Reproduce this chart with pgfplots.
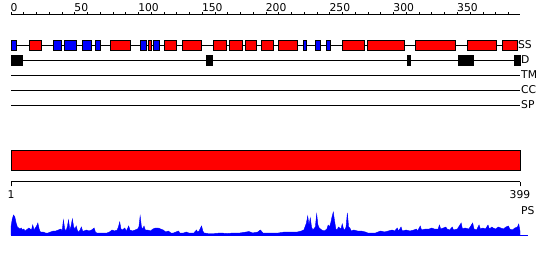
\documentclass[border=0pt]{standalone}
\usepackage{pgfplots}
\pgfplotsset{compat=1.18}
\usepackage{fontspec}
\setmainfont{DejaVu Sans}
\newcommand{\lab}{\fontsize{10.8}{12}\selectfont}
% secondary-structure / disorder boxes: start, end (residues), y top, y bottom (px from top)
\newcommand{\tbox}[5]{\addplot[fill=#5, draw=black, line width=1bp] coordinates {(#1,#3) (#2,#3) (#2,#4) (#1,#4)} -- cycle;}
\begin{document}
\begin{tikzpicture}
\useasboundingbox (0,0) rectangle (550bp,260bp);
% ---------- tracks ----------
\begin{axis}[scale only axis, width=509bp, height=260bp, at={(11bp,0bp)}, anchor=south west,
  xmin=0, xmax=399, ymin=0, ymax=260, y dir=reverse, hide axis, clip=false]
\addplot[black, line width=1bp] coordinates {(0,45) (397,45)};
\addplot[black, line width=1bp] coordinates {(0,60) (399,60)};
\addplot[black, line width=1bp] coordinates {(0,75) (399,75)};
\addplot[black, line width=1bp] coordinates {(0,90) (399,90)};
\addplot[black, line width=1bp] coordinates {(0,105) (399,105)};
% SS
\tbox{0}{4.5}{40}{50}{blue}
\tbox{14.3}{24.1}{40}{50}{red}
\tbox{33.2}{39.7}{40}{50}{blue}
\tbox{41.8}{51.5}{40}{50}{blue}
\tbox{55.9}{63.3}{40}{50}{blue}
\tbox{66.1}{70.3}{40}{50}{blue}
\tbox{77.8}{93.5}{40}{50}{red}
\tbox{101.4}{106.4}{40}{50}{blue}
\tbox{107.6}{110.5}{40}{50}{red}
\tbox{111.5}{116.6}{40}{50}{blue}
\tbox{120.2}{129.9}{40}{50}{red}
\tbox{134.3}{149.5}{40}{50}{red}
\tbox{158.6}{169.1}{40}{50}{red}
\tbox{171.1}{181.6}{40}{50}{red}
\tbox{184.2}{192.6}{40}{50}{red}
\tbox{196}{205.6}{40}{50}{red}
\tbox{209.5}{224.7}{40}{50}{red}
\tbox{229.1}{231.8}{40}{50}{blue}
\tbox{238.5}{242.8}{40}{50}{blue}
\tbox{247.5}{250.6}{40}{50}{blue}
\tbox{259.7}{276.9}{40}{50}{red}
\tbox{279.3}{308.3}{40}{50}{red}
\tbox{316.9}{348.8}{40}{50}{red}
\tbox{357.7}{380.7}{40}{50}{red}
\tbox{385.1}{396.9}{40}{50}{red}
% D
\tbox{0}{9.2}{55}{65.5}{black}
\tbox{152.9}{157.6}{55}{65.5}{black}
\tbox{311.2}{313.3}{55}{65.5}{black}
\tbox{350.6}{362.2}{55}{65.5}{black}
\tbox{394.3}{399.3}{55}{65.5}{black}
% long red bar
\tbox{0}{399}{150}{170}{red}
\node[anchor=west, inner sep=0.5bp, font=\lab] at (axis cs:396.9,45) {SS};
\node[anchor=west, inner sep=0.5bp, font=\lab] at (axis cs:399.3,60) {D};
\node[anchor=west, inner sep=1bp, font=\lab] at (axis cs:399,75) {TM};
\node[anchor=west, inner sep=1bp, font=\lab] at (axis cs:399,90) {CC};
\node[anchor=west, inner sep=1bp, font=\lab] at (axis cs:399,105) {SP};
\node[anchor=west, inner sep=1bp, font=\lab] at (axis cs:399,211) {PS};
\end{axis}
% ---------- top ruler ----------
\begin{axis}[scale only axis, width=509bp, height=1bp, at={(11bp,244bp)}, anchor=south west,
  xmin=0, xmax=399, ymin=0, ymax=1, axis x line=top, axis y line=none,
  axis line style={-, line width=1bp},
  xtick={0,50,...,350}, minor xtick={10,20,...,390},
  tick align=outside, major tick length=2.8bp, minor tick length=2.8bp,
  every tick/.style={black, line width=1bp},
  xticklabel style={anchor=south west, inner sep=0pt, font=\lab, xshift=-0.5bp},
  /pgf/number format/assume math mode=true]
\addplot[draw=none] coordinates {(0,0) (399,1)};
\end{axis}
% ---------- bottom axis ----------
\begin{axis}[scale only axis, width=509bp, height=1bp, at={(11bp,79bp)}, anchor=north west,
  xmin=1, xmax=399, ymin=0, ymax=1, axis x line=bottom, axis y line=none,
  axis line style={-, line width=1bp},
  xtick={1,399}, tick align=outside, major tick length=4.3bp,
  every tick/.style={black, line width=1bp},
  xticklabel style={font=\lab, inner sep=1pt, yshift=-3bp},
  /pgf/number format/assume math mode=true]
\addplot[draw=none] coordinates {(1,0) (399,1)};
\end{axis}
% ---------- PS profile ----------
\begin{axis}[scale only axis, width=509bp, height=25bp, at={(11bp,25bp)}, anchor=south west,
  xmin=1, xmax=399, ymin=0, ymax=25, hide axis, clip=false]
\addplot[blue, line width=1bp] coordinates {(1,0) (405,0)};
\addplot[fill=blue, draw=blue, line width=0.4bp] table {
x y
1 8
2 16
3 20
4 18
5 12
6 8
7 7
8 6
9 7
10 5
11 6
12 4
13 5
14 6
15 7
16 6
17 5
18 10
19 5
20 7
21 9
22 12
23 6
24 3
26 3
28 2
30 2
32 3
34 4
36 4
38 5
40 6
41 4
42 15
43 6
44 4
45 8
46 15
47 5
48 9
49 16
50 8
51 6
52 9
53 4
54 3
55 5
56 8
57 4
58 4
60 5
62 4
64 5
66 7
67 3
68 2
70 2
72 2
74 2
76 2
78 3
80 5
82 4
84 5
85 8
86 13
87 6
88 5
90 7
91 4
92 6
93 9
94 5
96 4
98 5
100 6
101 8
102 19
103 8
104 6
105 9
106 5
108 5
110 4
112 6
114 7
116 7
118 6
120 5
122 3
124 4
126 2
128 2
130 3
132 4
133 2
136 2
138 3
140 2
142 2
144 2
146 5
147 3
148 4
150 9
151 4
152 2
155 1.5
160 1.5
165 2
170 1.5
175 2
180 2
185 3
187 3.5
190 2
194 3
196 5
198 2
202 2
206 2
210 2
215 3
220 3
225 3
228 4
230 5
232 12
233 19
234 10
235 17
236 8
237 5
239 8
240 21
241 10
242 7
244 5
246 4
248 6
249 10
250 8
251 12
252 18
253 23
254 14
255 6
256 5
257 8
258 7
259 6
260 11
261 6
262 5
263 8
264 22
265 8
266 7
267 4
269 5
272 4
275 4
278 3
280 2
283 2
286 2
290 4
293 3
296 4
299 5
301 4
303 7
304 4
306 8
307 4
310 5
313 4
316 5
318 6
319 4
321 9
322 5
325 6
328 6
330 7
332 6
335 6
336 10
337 6
339 7
341 8
342 6
344 5
346 8
347 5
350 6
353 12
354 6
356 7
359 6
362 12
363 6
365 5
367 10
368 6
370 7
372 6
374 10
375 6
377 8
378 7
380 6
382 8
384 7
386 6
388 8
390 9
391 6
393 5
395 7
397 8
398 11
399 4
} \closedcycle;
\end{axis}
\end{tikzpicture}
\end{document}
